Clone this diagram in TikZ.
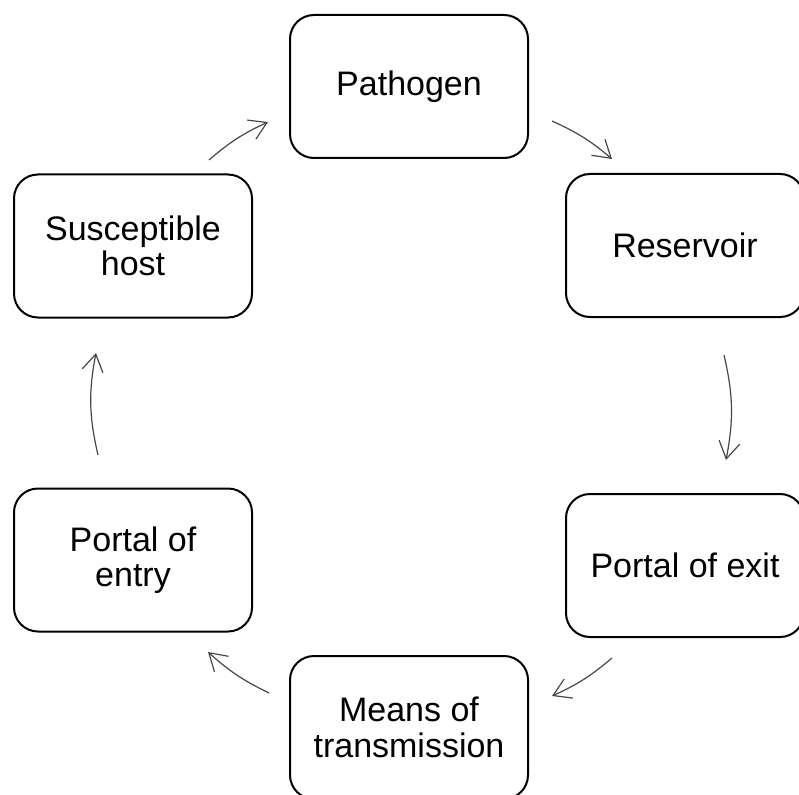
\documentclass[tikz,border=0pt]{standalone}
\usepackage{fontspec}
\setmainfont{Liberation Sans}
\usetikzlibrary{arrows.meta}
\tikzset{
  stagebox/.style={draw=black, line width=2pt, rounded corners=24pt,
    minimum width=238pt, minimum height=143pt, inner sep=0pt,
    align=center, font=\fontsize{34}{35.5}\selectfont, text=black},
  cyclearrow/.style={draw=black!72, line width=1.2pt,
    -{Straight Barb[length=17pt,width=21pt,line width=1.2pt]}}
}
\begin{document}
\begin{tikzpicture}[x=1pt,y=-1pt]
\useasboundingbox (0,0) rectangle (799,794);
\clip (0,0) rectangle (799,794);
\fill[white] (0,0) rectangle (799,794);
\node[stagebox] (path) at (409,86.5) {Pathogen};
\node[stagebox] (res) at (685,245.5) {Reservoir};
\node[stagebox] (exit) at (685,565.5) {Portal of exit};
\node[stagebox] (means) at (409,727.5) {Means of\\transmission};
\node[stagebox] (entry) at (133,560) {Portal of\\entry};
\node[stagebox] (host) at (133,246) {Susceptible\\host};
\coordinate (a1s) at (552,121);
\coordinate (a1e) at (612,159);
\coordinate (a2s) at (724,355);
\coordinate (a2e) at (726,460);
\coordinate (a3s) at (612,658);
\coordinate (a3e) at (552,696);
\coordinate (a4s) at (269,693);
\coordinate (a4e) at (208,652);
\coordinate (a5s) at (98,455);
\coordinate (a5e) at (96,353);
\coordinate (a6s) at (209,160);
\coordinate (a6e) at (268,122);
\draw[cyclearrow] (a1s) to[bend left=8] (a1e);
\draw[cyclearrow] (a2s) to[bend left=12] (a2e);
\draw[cyclearrow] (a3s) to[bend left=8] (a3e);
\draw[cyclearrow] (a4s) to[bend left=8] (a4e);
\draw[cyclearrow] (a5s) to[bend left=12] (a5e);
\draw[cyclearrow] (a6s) to[bend left=8] (a6e);
\end{tikzpicture}
\end{document}
